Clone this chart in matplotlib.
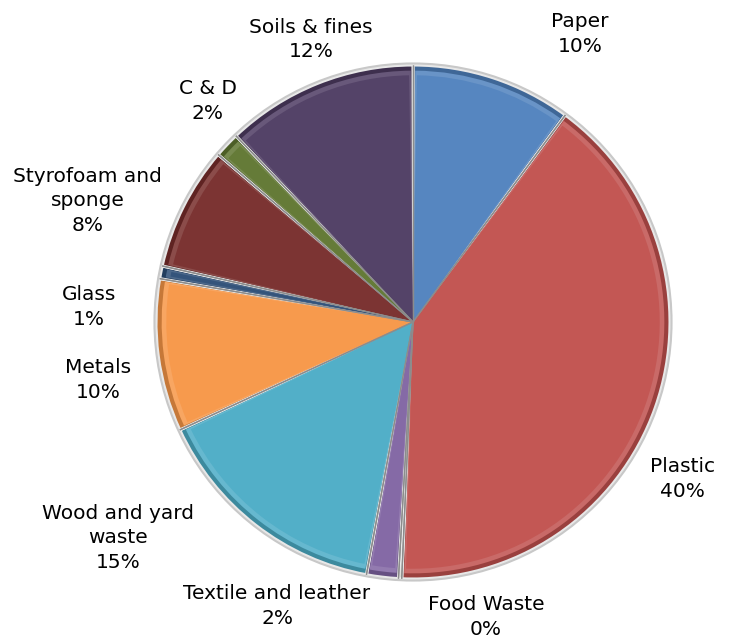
import numpy as np
import matplotlib
matplotlib.use("Agg")
import matplotlib.pyplot as plt
from matplotlib.patches import Wedge
from matplotlib.colors import to_rgb

# ── Data (clockwise from 12 o'clock) ──
labels = ["Paper", "Plastic", "Food Waste", "Textile and leather",
          "Wood and yard\nwaste", "Metals", "Glass",
          "Styrofoam and\nsponge", "C & D", "Soils & fines"]
shares = [10.1, 40.6, 0.2, 2.0, 15.2, 9.6, 0.8, 7.8, 1.6, 12.1]
pct_text = ["10%", "40%", "0%", "2%", "15%", "10%", "1%", "8%", "2%", "12%"]
colors = ["#4f81bd", "#c0504d", "#9bbb59", "#8064a2", "#4bacc6",
          "#f79646", "#2c4d75", "#772c2a", "#5f7530", "#4d3b62"]

# label anchor points (data units, pie radius = 1)
label_xy = [(0.65, 1.12), (1.047, -0.61), (0.284, -1.148), (-0.529, -1.105),
            (-1.148, -0.84), (-1.226, -0.226), (-1.261, 0.058),
            (-1.265, 0.471), (-0.798, 0.86), (-0.397, 1.10)]

fig = plt.figure(figsize=(7.49, 6.44), dpi=100)
ax = fig.add_axes([0, 0, 1, 1])
ax.set_xlim(-413 / 257, (749 - 413) / 257)
ax.set_ylim(-(644 - 322) / 257, 322 / 257)
ax.set_aspect("equal")
ax.axis("off")


def shade(c, f):
    r, g, b = to_rgb(c)
    if f < 1:
        return (r * f, g * f, b * f)
    return tuple(v + (1 - v) * (f - 1) for v in (r, g, b))


total = sum(shares)
start = 90.0
for val, col in zip(shares, colors):
    sweep = 360.0 * val / total
    t1, t2 = start - sweep, start
    # darker rim, light highlight, then main face -> bevelled look
    ax.add_patch(Wedge((0, 0), 1.0, t1, t2, facecolor=shade(col, 0.8),
                       edgecolor="#e8e8e8", linewidth=2.2, zorder=2))
    if sweep > 1.4:
        ax.add_patch(Wedge((0, 0), 0.978, t1 + 0.5, t2 - 0.5,
                           facecolor=shade(col, 1.15), edgecolor="none",
                           zorder=3))
    if sweep > 2.2:
        ax.add_patch(Wedge((0, 0), 0.96, t1 + 0.9, t2 - 0.9,
                           facecolor=shade(col, 1.04), edgecolor="none",
                           zorder=4))
    for ang in (t1, t2):
        a = np.deg2rad(ang)
        ax.plot([0, np.cos(a)], [0, np.sin(a)], color="#8c8c8c",
                linewidth=0.9, zorder=5, solid_capstyle="butt")
    start = t1

ax.add_patch(plt.Circle((0, 0), 1.006, fill=False, edgecolor="#c8c8c8",
                        linewidth=1.5, zorder=6))

for (x, y), lab, p in zip(label_xy, labels, pct_text):
    ax.text(x, y, f"{lab}\n{p}", ha="center", va="center",
            fontsize=14.5, family="DejaVu Sans", linespacing=1.37,
            color="black", zorder=10)

fig.savefig("out.png", dpi=100)
